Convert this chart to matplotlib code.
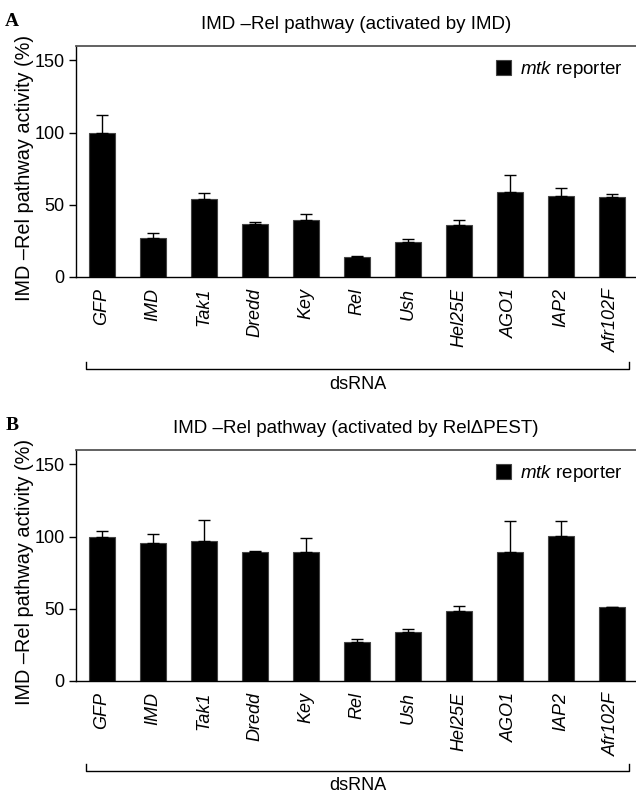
import matplotlib.pyplot as plt
import numpy as np
from matplotlib.transforms import blended_transform_factory

plt.rcParams["font.family"] = ["Liberation Sans", "DejaVu Sans"]
plt.rcParams["mathtext.fontset"] = "custom"
plt.rcParams["mathtext.it"] = "Liberation Sans:italic"
plt.rcParams["mathtext.rm"] = "Liberation Sans"

genes = ["GFP", "IMD", "Tak1", "Dredd", "Key", "Rel", "Ush", "Hel25E", "AGO1", "IAP2", "Afr102F"]

# panel A: activated by IMD
act_a = [100, 26.8, 53.7, 36.8, 39.6, 13.5, 24.3, 35.7, 58.8, 56.3, 55.6]
top_a = [112.3, 30.3, 58.3, 38.2, 43.5, 14.6, 26.4, 39.2, 70.4, 61.8, 57.6]

# panel B: activated by RelΔPEST
act_b = [100, 95.6, 96.7, 89.1, 89.6, 27.0, 33.5, 48.3, 89.1, 100.2, 50.8]
top_b = [104, 102, 111.7, 90.0, 99.0, 28.6, 36.0, 51.7, 111.0, 111.0, 50.8]

titles = ["IMD \u2013Rel pathway (activated by IMD)",
          "IMD \u2013Rel pathway (activated by Rel\u0394PEST)"]
letters = ["A", "B"]

W, H = 636, 793
fig = plt.figure(figsize=(W / 100, H / 100), dpi=100)


def panel(top_px, bottom_px, act, top, title, letter, br_y):
    ax = fig.add_axes([76.3 / W, 1 - bottom_px / H, 1 - 76.3 / W, (bottom_px - top_px) / H])
    x = np.arange(len(genes))
    act = np.array(act)
    top = np.array(top)
    ax.bar(x, act, width=0.52, color="black", edgecolor="#444444", linewidth=0.8,
           label=r"$\it{mtk}$ reporter")
    ax.errorbar(x, act, yerr=[np.zeros_like(act), top - act], fmt="none",
                ecolor="black", elinewidth=1.0, capsize=4.5, capthick=1.0)
    ax.set_xlim(-0.5, 10.475)
    ax.set_ylim(0, 160)
    ax.set_yticks([0, 50, 100, 150])
    ax.tick_params(axis="y", labelsize=13, length=5, width=1, direction="out")
    ax.tick_params(axis="x", length=0, pad=8)
    ax.set_xticks(x)
    ax.set_xticklabels(genes, rotation=90, fontsize=13, style="italic")
    ax.spines["right"].set_visible(False)
    ax.spines["top"].set_color("#555555")
    ax.spines["top"].set_linewidth(1.3)
    ax.spines["left"].set_linewidth(1.0)
    ax.spines["bottom"].set_linewidth(1.0)
    ax.set_ylabel("IMD \u2013Rel pathway activity (%)", fontsize=14.3, labelpad=4)
    ax.yaxis.set_label_coords(-0.076, 0.47)
    ax.set_title(title, fontsize=13.5, pad=12)
    ax.legend(loc="upper right", frameon=False, fontsize=13.5, handlelength=0.8,
              handleheight=0.8, handletextpad=0.5, borderaxespad=0.3)

    # dsRNA bracket under the labels
    tr = blended_transform_factory(ax.transData, ax.transAxes)
    x0, x1 = -0.31, 10.34
    ax.plot([x0, x0, x1, x1], [br_y + 0.03, br_y, br_y, br_y + 0.03], color="black",
            lw=1.0, transform=tr, clip_on=False)
    ax.text((x0 + x1) / 2, br_y - 0.065, "dsRNA", transform=tr, ha="center", va="center",
            fontsize=13)
    fig.text(12 / W, 1 - (top_px - 25) / H, letter, fontsize=14, fontweight="bold",
             family="Liberation Serif", ha="center", va="center")
    return ax


panel(46, 276.7, act_a, top_a, titles[0], letters[0], -0.401)
panel(450, 680.7, act_b, top_b, titles[1], letters[1], -0.39)

fig.savefig("out.png", dpi=100)
